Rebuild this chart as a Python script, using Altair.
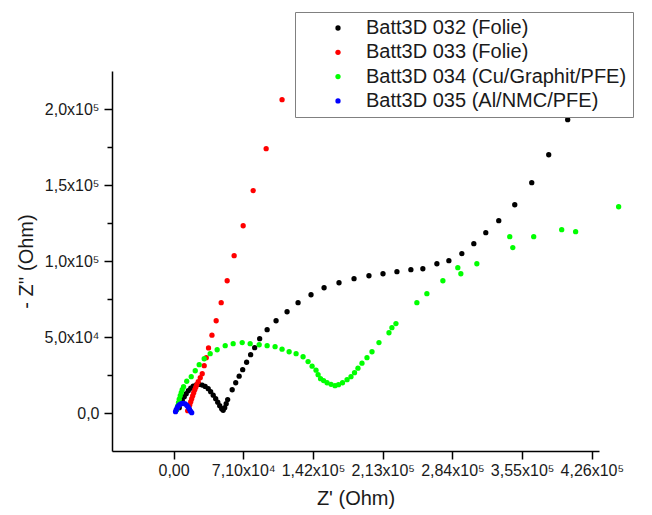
import altair as alt
import pandas as pd

# ---------------- data ----------------
series_names = [
    "Batt3D 032 (Folie)",
    "Batt3D 033 (Folie)",
    "Batt3D 034 (Cu/Graphit/PFE)",
    "Batt3D 035 (Al/NMC/PFE)",
]
series_colors = ["#000000", "#ff0000", "#00ff00", "#0000ff"]

b032_x = [5800, 7300, 8800, 10900, 12900, 15000, 17500, 20000, 23100, 26100,
          29200, 32200, 35300, 37800, 40400, 42900, 45000, 47000, 49000, 50500,
          52100, 53600, 55100, 59700, 63300, 66800, 70400, 74400, 78500, 82600,
          87700, 95300, 104400, 115600, 126800, 140000, 153300, 168500, 183800,
          199000, 213300, 227500, 241700, 253900, 268200, 280400, 293600, 305800,
          318000, 331200, 347500, 364800, 382100, 401400]
b032_y = [3500, 6100, 8400, 10700, 12700, 14700, 16300, 17600, 18500, 18800,
          18400, 17500, 16000, 14000, 11700, 9400, 7100, 4800, 2800, 1800,
          3500, 6100, 8800, 15300, 19900, 24200, 28500, 33400, 38400, 43000,
          48900, 54800, 60700, 66600, 72600, 77800, 82400, 85700, 88400,
          90300, 91600, 93000, 94300, 94900, 98200, 100200, 104800, 111400,
          118600, 126500, 137000, 151500, 169900, 193000]

b033_x = [14400, 15500, 16500, 17500, 18500, 19500, 20500, 21600, 22600, 23600,
          25100, 27200, 29200, 31200, 33300, 35600, 39100, 43400, 48500, 54600,
          61700, 70900, 81100, 94300, 110500]
b033_y = [1500, 3500, 5500, 7400, 9400, 11400, 13400, 15300, 17000, 18600,
          20600, 23200, 25900, 31100, 36400, 42800, 51200, 60700, 72600, 87000,
          103500, 123200, 146300, 173900, 206100]

b034_x = [3300, 4100, 5000, 5800, 6800, 7800, 8800, 10200, 13400, 18000,
          22100, 26100, 31200, 37300, 44400, 52600, 60700, 69900, 78000, 87200,
          95300, 103400, 110500, 117700, 124800, 131900, 137000, 141100, 145100,
          147200, 149700, 152800, 156300, 160400, 164400, 168000, 172100, 176700,
          180700, 184300, 187800, 191900, 197000, 202100, 209200, 219400, 222400,
          226500, 247800, 258000, 274300, 289500, 292600, 308900, 342400, 345500,
          366800, 395300, 409500, 453300]
b034_y = [2200, 4500, 6800, 9100, 11400, 13400, 15300, 17300, 20900, 23900,
          27800, 31800, 35700, 39000, 41600, 44300, 45600, 46300, 45600, 44900,
          44300, 43600, 42000, 40300, 39000, 37000, 33800, 30800, 28200,
          25200, 22600, 21300, 19900, 18900, 18000, 18600, 19900, 21900,
          23900, 26500, 29500, 32800, 36400, 40300, 46300, 52800, 56100,
          58800, 72600, 78500, 87000, 95600, 91600, 98200, 116000, 108800,
          116000, 120600, 119300, 135700]

b035_x = [2000, 2700, 3800, 4800, 6100, 7800, 9900, 11900, 13600, 15000,
          16200, 17300, 18500]
b035_y = [900, 2200, 3500, 4600, 5500, 6100, 6400, 6000, 5000, 3800,
          2500, 1200, 200]

# axis ticks and labels (as printed on the reference)
x_tick_values = [0, 71000, 142000, 213000, 284000, 355000, 426000]
x_tick_labels = ["0,00", "7,10x10⁴", "1,42x10⁵", "2,13x10⁵", "2,84x10⁵",
                 "3,55x10⁵", "4,26x10⁵"]
y_tick_values = [0, 25000, 50000, 75000, 100000, 125000, 150000, 175000, 200000]
y_tick_labels = ["0,0", "", "5,0x10⁴", "", "1,0x10⁵", "", "1,5x10⁵", "",
                 "2,0x10⁵"]
x_domain = [-62700, 433300]
y_domain = [-25000, 225000]

# ---------------- table ----------------
rows = []
for name, xs, ys in zip(series_names,
                        [b032_x, b033_x, b034_x, b035_x],
                        [b032_y, b033_y, b034_y, b035_y]):
    for xv, yv in zip(xs, ys):
        rows.append({"series": name, "zre": xv, "zim": yv})
df = pd.DataFrame(rows)


def label_expr(values, labels):
    expr = "''"
    for v, l in reversed(list(zip(values, labels))):
        expr = f"datum.value == {v} ? '{l}' : ({expr})"
    return expr


FONT = "Liberation Sans"
TXT = "#1a1a1a"

chart = (
    alt.Chart(df)
    .mark_point(filled=True, shape="circle", size=28, opacity=1, strokeWidth=0)
    .encode(
        x=alt.X(
            "zre:Q",
            scale=alt.Scale(domain=x_domain, nice=False, zero=False),
            axis=alt.Axis(
                title="Z' (Ohm)",
                values=x_tick_values,
                labelExpr=label_expr(x_tick_values, x_tick_labels),
                grid=False,
                tickSize=8,
                labelPadding=3,
                titlePadding=10,
                labelFlush=False,
                labelOverlap=False,
            ),
        ),
        y=alt.Y(
            "zim:Q",
            scale=alt.Scale(domain=y_domain, nice=False, zero=False),
            axis=alt.Axis(
                title="- Z'' (Ohm)",
                values=y_tick_values,
                labelExpr=label_expr(y_tick_values, y_tick_labels),
                grid=False,
                tickSize={"condition": {"test": "datum.value % 50000 == 0", "value": 8}, "value": 5},
                labelPadding=5,
                titlePadding=8,
                labelFlush=False,
                labelOverlap=False,
            ),
        ),
        color=alt.Color(
            "series:N",
            scale=alt.Scale(domain=series_names, range=series_colors),
            legend=alt.Legend(
                title=None,
                orient="none",
                legendX=183,
                legendY=-59,
                direction="vertical",
                symbolType="circle",
                symbolSize=28,
                symbolStrokeWidth=0,
                symbolOffset=27,
                labelOffset=18,
                labelFontSize=20,
                labelFont=FONT,
                labelColor=TXT,
                labelLimit=500,
                labelExpr="datum.label + '\u00a0\u00a0\u00a0'",
                rowPadding=4.3,
                padding=6,
                fillColor="#ffffff",
                strokeColor="#808080",
            ),
        ),
    )
    .properties(
        width=487,
        height=380,
        autosize=alt.AutoSizeParams(type="none"),
        padding={"left": 104, "top": 63, "right": 45, "bottom": 60},
    )
    .configure_view(stroke=None)
    .configure_axis(
        domainColor="#000000",
        domainWidth=1.5,
        tickColor="#000000",
        tickWidth=1.5,
        labelFont=FONT,
        labelFontSize=16,
        labelColor=TXT,
        titleFont=FONT,
        titleFontSize=20,
        titleFontWeight="normal",
        titleColor=TXT,
    )
)

chart.save("out.html", embed_options={"renderer": "svg", "actions": False})
